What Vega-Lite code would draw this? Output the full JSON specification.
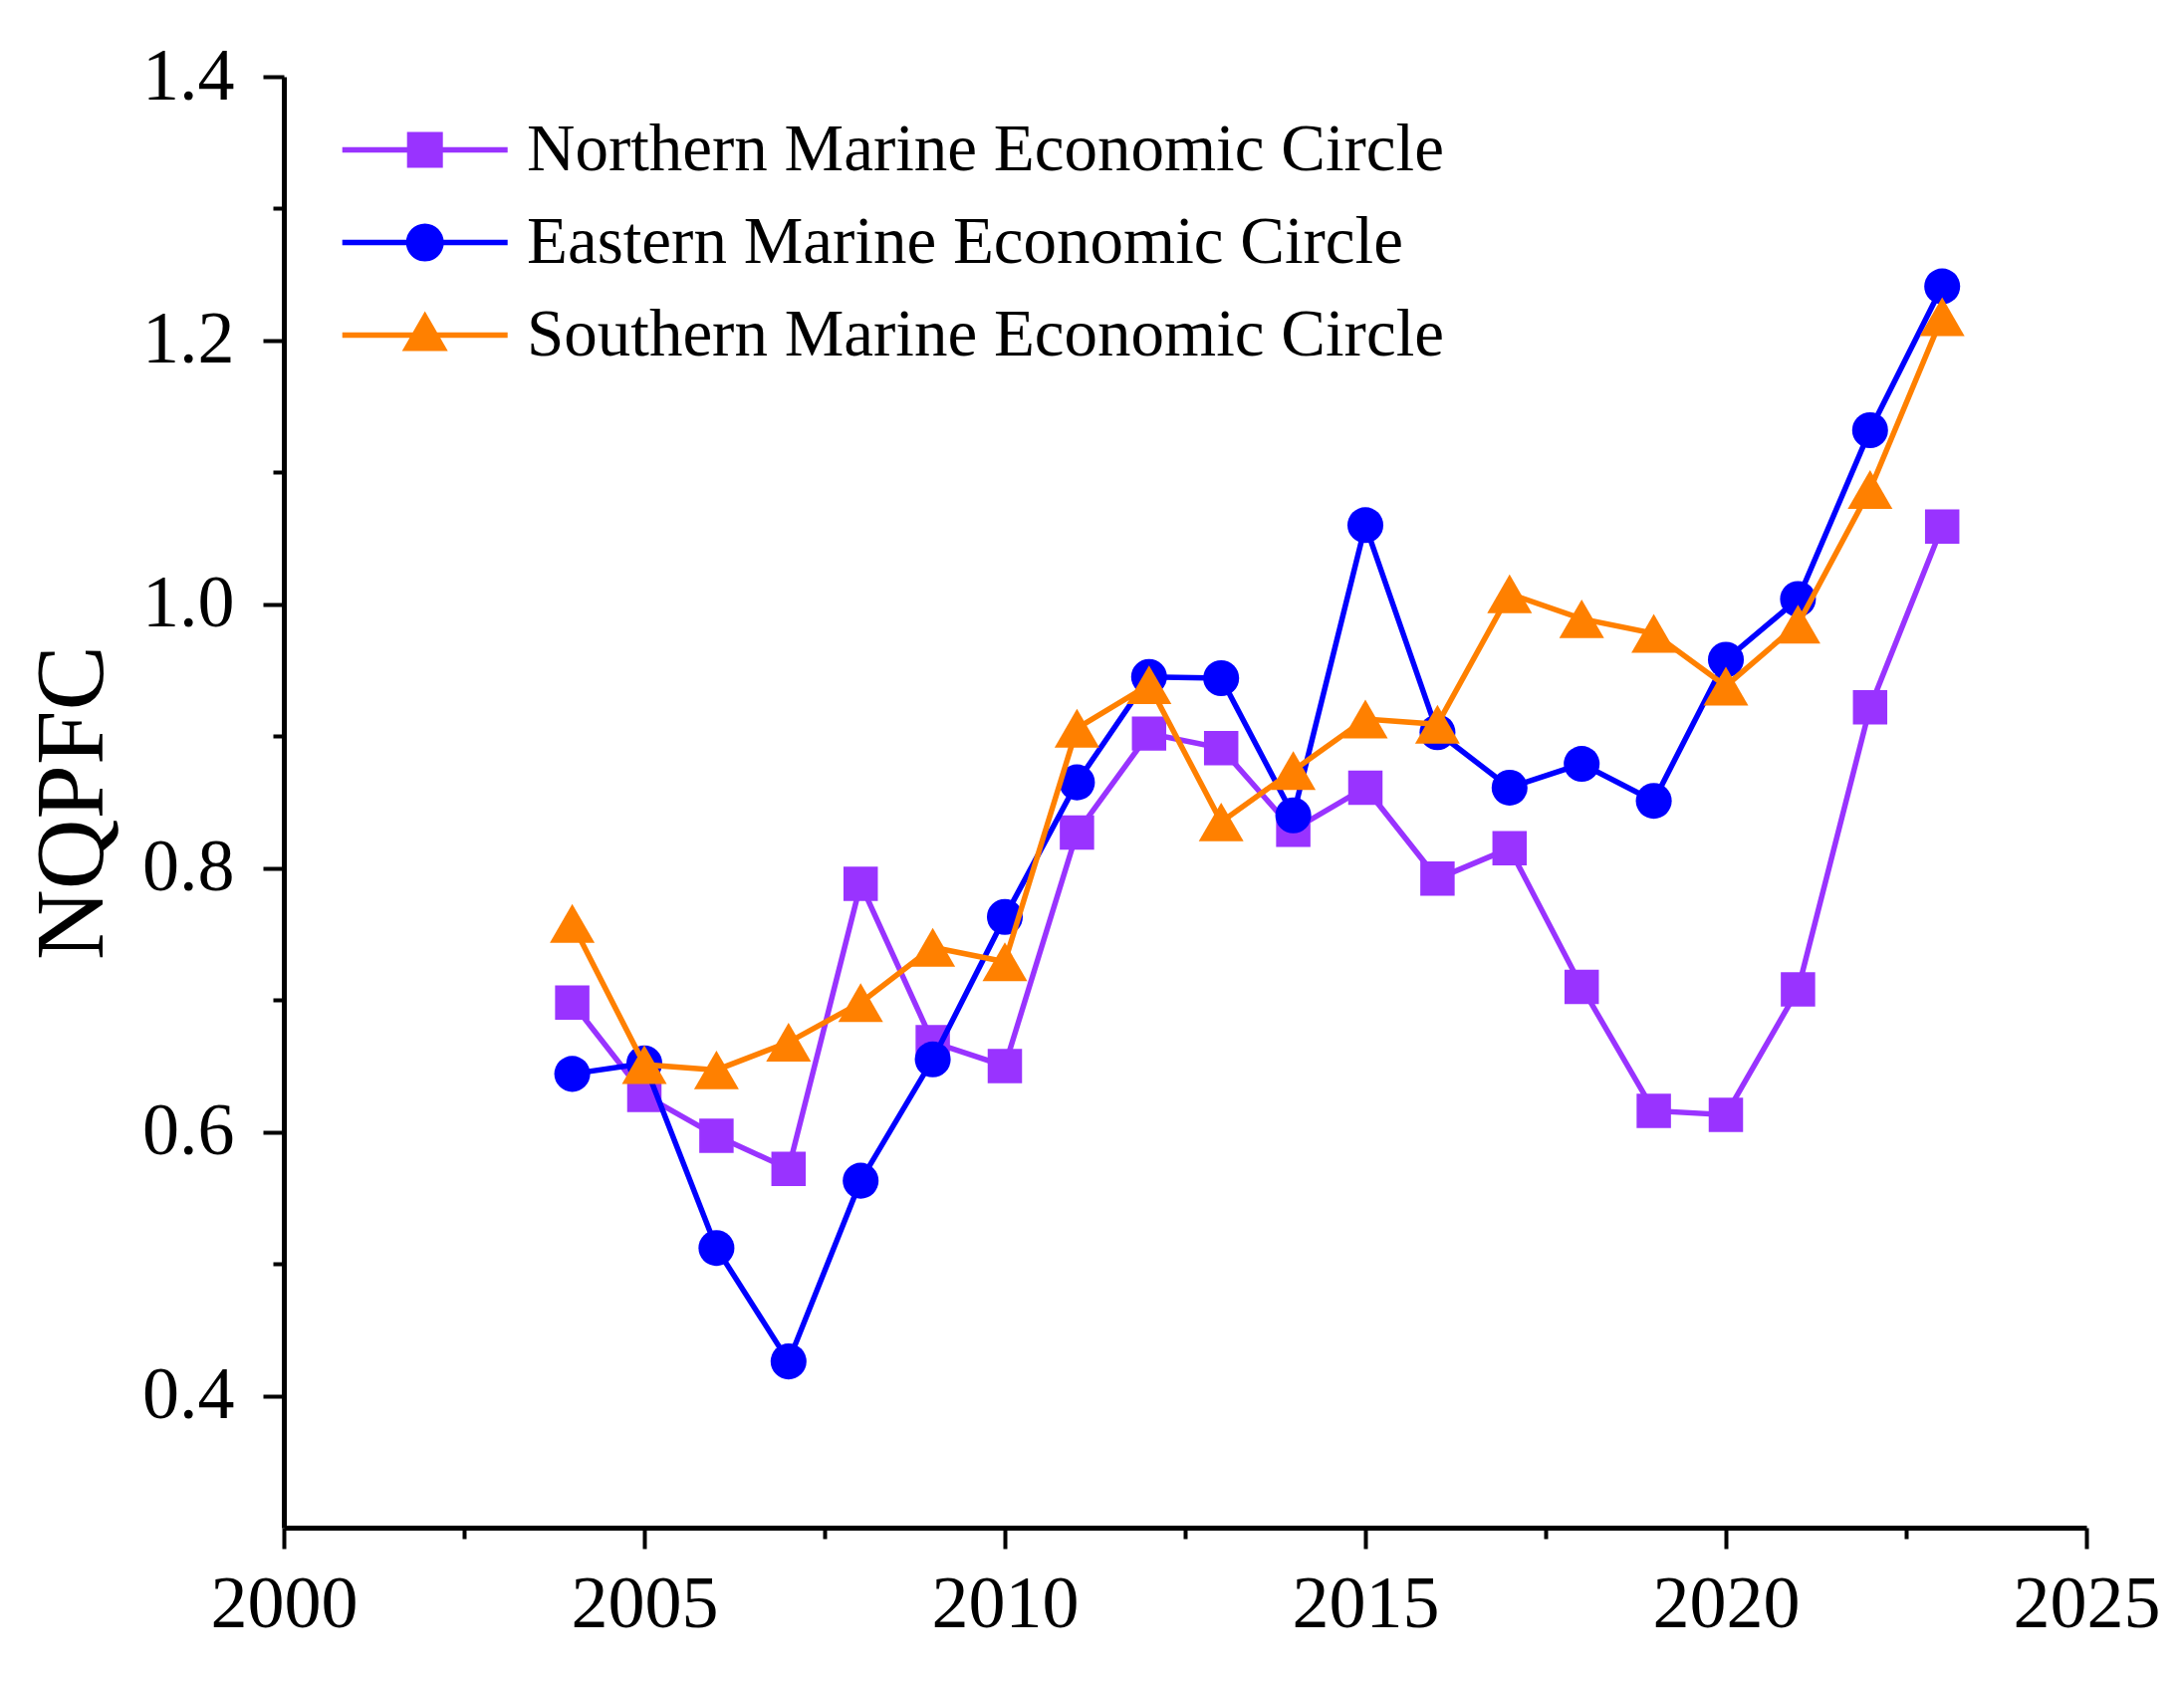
{
  "$schema": "https://vega.github.io/schema/vega-lite/v6.json",
  "width": 1810,
  "height": 1457,
  "padding": {"left": 24, "top": 40, "right": 20, "bottom": 10},
  "background": "white",
  "config": {
    "view": {"stroke": null},
    "font": "Liberation Serif"
  },
  "data": {
    "values": [
      {"year": 2004, "series": "Northern Marine Economic Circle", "value": 0.698},
      {"year": 2005, "series": "Northern Marine Economic Circle", "value": 0.628},
      {"year": 2006, "series": "Northern Marine Economic Circle", "value": 0.597},
      {"year": 2007, "series": "Northern Marine Economic Circle", "value": 0.572},
      {"year": 2008, "series": "Northern Marine Economic Circle", "value": 0.788},
      {"year": 2009, "series": "Northern Marine Economic Circle", "value": 0.668},
      {"year": 2010, "series": "Northern Marine Economic Circle", "value": 0.650},
      {"year": 2011, "series": "Northern Marine Economic Circle", "value": 0.827},
      {"year": 2012, "series": "Northern Marine Economic Circle", "value": 0.902},
      {"year": 2013, "series": "Northern Marine Economic Circle", "value": 0.891},
      {"year": 2014, "series": "Northern Marine Economic Circle", "value": 0.829},
      {"year": 2015, "series": "Northern Marine Economic Circle", "value": 0.861},
      {"year": 2016, "series": "Northern Marine Economic Circle", "value": 0.792},
      {"year": 2017, "series": "Northern Marine Economic Circle", "value": 0.815},
      {"year": 2018, "series": "Northern Marine Economic Circle", "value": 0.710},
      {"year": 2019, "series": "Northern Marine Economic Circle", "value": 0.616},
      {"year": 2020, "series": "Northern Marine Economic Circle", "value": 0.613},
      {"year": 2021, "series": "Northern Marine Economic Circle", "value": 0.708},
      {"year": 2022, "series": "Northern Marine Economic Circle", "value": 0.922},
      {"year": 2023, "series": "Northern Marine Economic Circle", "value": 1.059},
      {"year": 2004, "series": "Eastern Marine Economic Circle", "value": 0.644},
      {"year": 2005, "series": "Eastern Marine Economic Circle", "value": 0.652},
      {"year": 2006, "series": "Eastern Marine Economic Circle", "value": 0.512},
      {"year": 2007, "series": "Eastern Marine Economic Circle", "value": 0.426},
      {"year": 2008, "series": "Eastern Marine Economic Circle", "value": 0.563},
      {"year": 2009, "series": "Eastern Marine Economic Circle", "value": 0.655},
      {"year": 2010, "series": "Eastern Marine Economic Circle", "value": 0.763},
      {"year": 2011, "series": "Eastern Marine Economic Circle", "value": 0.865},
      {"year": 2012, "series": "Eastern Marine Economic Circle", "value": 0.945},
      {"year": 2013, "series": "Eastern Marine Economic Circle", "value": 0.944},
      {"year": 2014, "series": "Eastern Marine Economic Circle", "value": 0.840},
      {"year": 2015, "series": "Eastern Marine Economic Circle", "value": 1.060},
      {"year": 2016, "series": "Eastern Marine Economic Circle", "value": 0.903},
      {"year": 2017, "series": "Eastern Marine Economic Circle", "value": 0.861},
      {"year": 2018, "series": "Eastern Marine Economic Circle", "value": 0.879},
      {"year": 2019, "series": "Eastern Marine Economic Circle", "value": 0.851},
      {"year": 2020, "series": "Eastern Marine Economic Circle", "value": 0.958},
      {"year": 2021, "series": "Eastern Marine Economic Circle", "value": 1.004},
      {"year": 2022, "series": "Eastern Marine Economic Circle", "value": 1.132},
      {"year": 2023, "series": "Eastern Marine Economic Circle", "value": 1.241},
      {"year": 2004, "series": "Southern Marine Economic Circle", "value": 0.758},
      {"year": 2005, "series": "Southern Marine Economic Circle", "value": 0.651},
      {"year": 2006, "series": "Southern Marine Economic Circle", "value": 0.647},
      {"year": 2007, "series": "Southern Marine Economic Circle", "value": 0.668},
      {"year": 2008, "series": "Southern Marine Economic Circle", "value": 0.698},
      {"year": 2009, "series": "Southern Marine Economic Circle", "value": 0.740},
      {"year": 2010, "series": "Southern Marine Economic Circle", "value": 0.729},
      {"year": 2011, "series": "Southern Marine Economic Circle", "value": 0.906},
      {"year": 2012, "series": "Southern Marine Economic Circle", "value": 0.939},
      {"year": 2013, "series": "Southern Marine Economic Circle", "value": 0.835},
      {"year": 2014, "series": "Southern Marine Economic Circle", "value": 0.874},
      {"year": 2015, "series": "Southern Marine Economic Circle", "value": 0.913},
      {"year": 2016, "series": "Southern Marine Economic Circle", "value": 0.909},
      {"year": 2017, "series": "Southern Marine Economic Circle", "value": 1.008},
      {"year": 2018, "series": "Southern Marine Economic Circle", "value": 0.989},
      {"year": 2019, "series": "Southern Marine Economic Circle", "value": 0.978},
      {"year": 2020, "series": "Southern Marine Economic Circle", "value": 0.938},
      {"year": 2021, "series": "Southern Marine Economic Circle", "value": 0.985},
      {"year": 2022, "series": "Southern Marine Economic Circle", "value": 1.087},
      {"year": 2023, "series": "Southern Marine Economic Circle", "value": 1.218}
    ]
  },
  "encoding": {
    "x": {
      "field": "year",
      "type": "quantitative",
      "scale": {"domain": [2000, 2025], "nice": false, "zero": false},
      "axis": {
        "title": null,
        "grid": false,
        "values": [2000, 2002.5, 2005, 2007.5, 2010, 2012.5, 2015, 2017.5, 2020, 2022.5, 2025],
        "labelExpr": "datum.value % 5 === 0 ? format(datum.value, 'd') : ''",
        "tickSize": {"condition": {"test": "datum.value % 5 === 0", "value": 21}, "value": 11},
        "tickWidth": 4,
        "tickColor": "black",
        "domainColor": "black",
        "domainWidth": 5,
        "labelFont": "Liberation Serif",
        "labelFontSize": 74,
        "labelColor": "black",
        "labelPadding": 20,
        "labelFlush": false,
        "labelOverlap": false
      }
    },
    "y": {
      "field": "value",
      "type": "quantitative",
      "scale": {"domain": [0.3, 1.4], "nice": false, "zero": false},
      "axis": {
        "title": "NQPFC",
        "titleFont": "Liberation Serif",
        "titleFontSize": 98,
        "titleFontWeight": "normal",
        "titleColor": "black",
        "titlePadding": 19,
        "grid": false,
        "values": [0.4, 0.5, 0.6, 0.7, 0.8, 0.9, 1.0, 1.1, 1.2, 1.3, 1.4],
        "labelExpr": "round(datum.value * 10) % 2 === 0 ? format(datum.value, '.1f') : ''",
        "tickSize": {"condition": {"test": "round(datum.value * 10) % 2 === 0", "value": 21}, "value": 11},
        "tickWidth": 4,
        "tickColor": "black",
        "domainColor": "black",
        "domainWidth": 5,
        "labelFont": "Liberation Serif",
        "labelFontSize": 74,
        "labelColor": "black",
        "labelPadding": 29,
        "labelFlush": false,
        "labelOverlap": false
      }
    },
    "color": {
      "field": "series",
      "type": "nominal",
      "scale": {
        "domain": ["Northern Marine Economic Circle", "Eastern Marine Economic Circle", "Southern Marine Economic Circle"],
        "range": ["#9933ff", "#0000ff", "#ff8000"]
      },
      "legend": {
        "title": null,
        "orient": "none",
        "legendX": 160,
        "legendY": 40,
        "padding": 0,
        "labelFont": "Liberation Serif",
        "labelFontSize": 67,
        "labelColor": "black",
        "labelLimit": 2000,
        "labelOffset": 17,
        "rowPadding": 25,
        "symbolSize": 1600,
        "symbolStrokeWidth": 0,
        "encode": {
          "symbols": {
            "update": {
              "shape": {"signal": "datum.value === 'Northern Marine Economic Circle' ? 'M-6.74,-0.14H1.56V0.14H-6.74ZM-3.49,-0.9H-1.69V0.9H-3.49Z' : datum.value === 'Eastern Marine Economic Circle' ? 'M-6.74,-0.14H1.56V0.14H-6.74ZM-1.64,0A0.95,0.95 0 1 1 -3.54,0A0.95,0.95 0 1 1 -1.64,0Z' : 'M-6.74,-0.14H1.56V0.14H-6.74ZM-2.59,-1.2L-1.44,0.8H-3.74Z'"}
            }
          }
        }
      }
    }
  },
  "layer": [
    {
      "transform": [{"filter": "datum.series === 'Northern Marine Economic Circle'"}],
      "mark": {"type": "line", "strokeWidth": 5.5}
    },
    {
      "transform": [{"filter": "datum.series === 'Northern Marine Economic Circle'"}],
      "mark": {"type": "point", "shape": "square", "size": 1190, "filled": true, "opacity": 1}
    },
    {
      "transform": [{"filter": "datum.series === 'Eastern Marine Economic Circle'"}],
      "mark": {"type": "line", "strokeWidth": 5.5}
    },
    {
      "transform": [{"filter": "datum.series === 'Eastern Marine Economic Circle'"}],
      "mark": {"type": "point", "shape": "circle", "size": 1300, "filled": true, "opacity": 1}
    },
    {
      "transform": [{"filter": "datum.series === 'Southern Marine Economic Circle'"}],
      "mark": {"type": "line", "strokeWidth": 5.5}
    },
    {
      "transform": [{"filter": "datum.series === 'Southern Marine Economic Circle'"}],
      "mark": {"type": "point", "shape": "triangle-up", "size": 2025, "filled": true, "opacity": 1}
    }
  ]
}
